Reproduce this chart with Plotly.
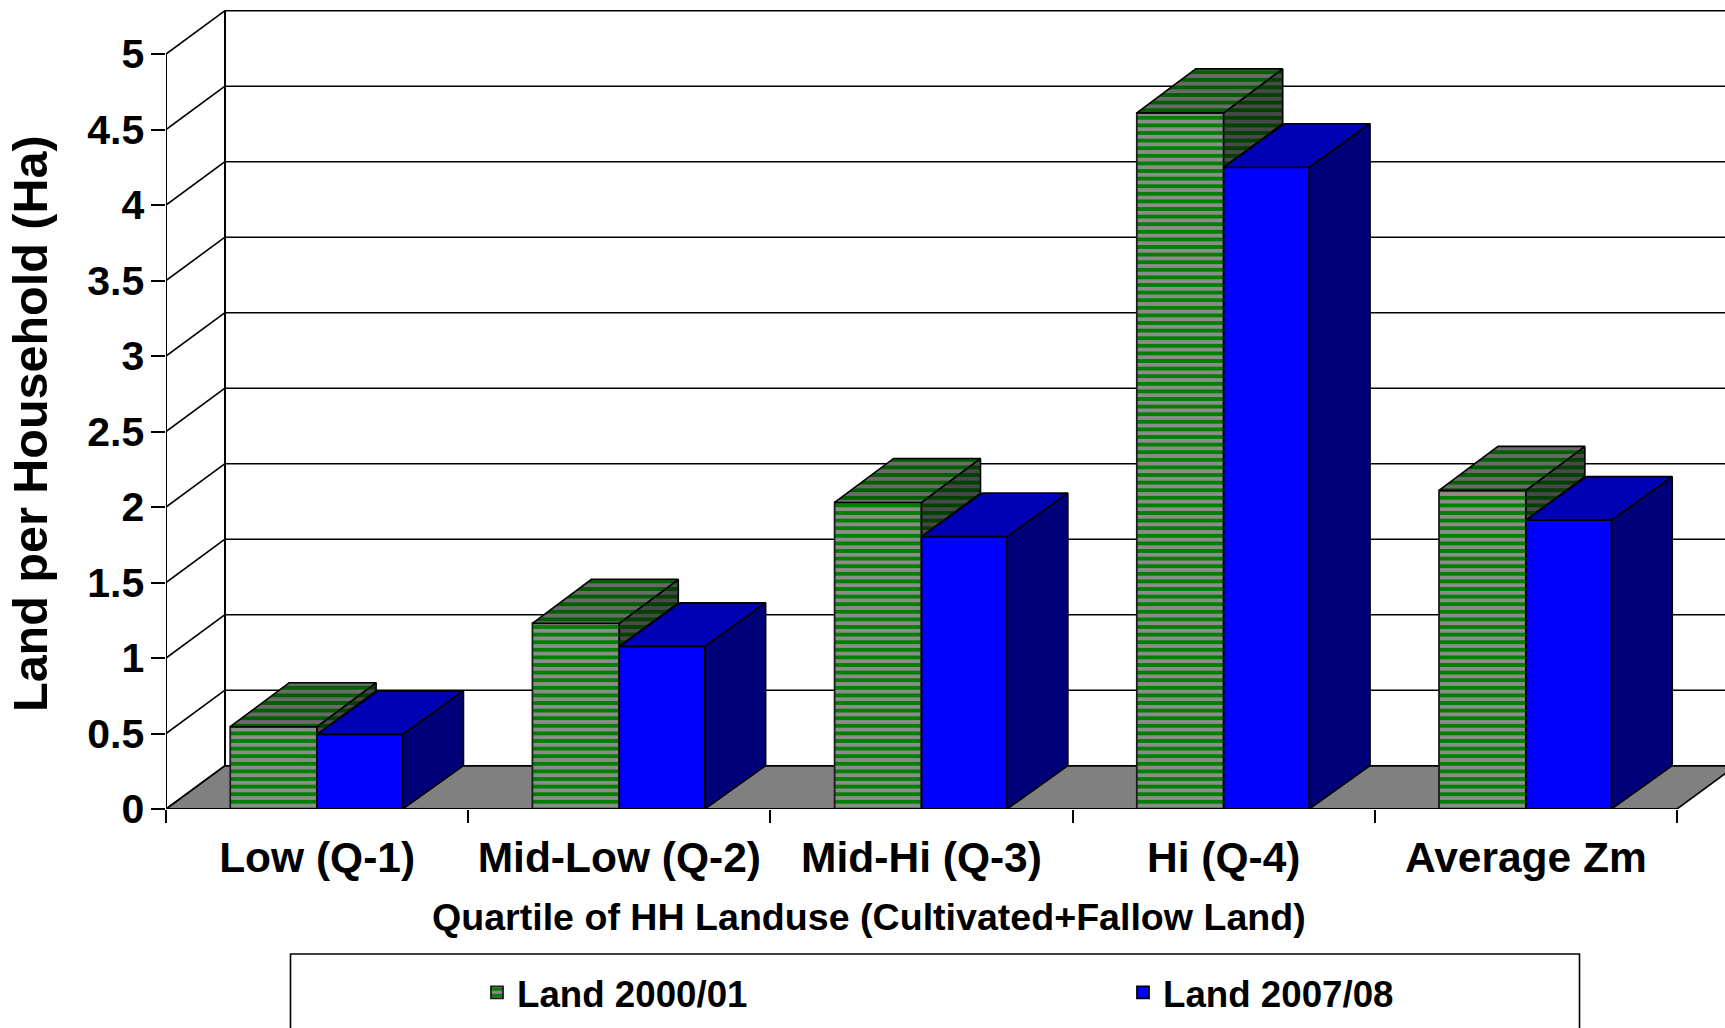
import plotly.graph_objects as go

categories = ["Low (Q-1)", "Mid-Low (Q-2)", "Mid-Hi (Q-3)", "Hi (Q-4)", "Average Zm"]
land_2000 = [0.545, 1.23, 2.03, 4.61, 2.11]
land_2007 = [0.494, 1.077, 1.804, 4.25, 1.913]
y_ticks = [0, 0.5, 1, 1.5, 2, 2.5, 3, 3.5, 4, 4.5, 5]
series_names = ["Land 2000/01", "Land 2007/08"]

FONT = "Liberation Sans"
PX_X = 302.2
PX_Y = 151.0
LEFT = 166
BASE = 809.0
W, H = 1725, 1028
WALL_DX, WALL_DY = 59 / PX_X, 43.3 / PX_Y
G_DX, G_DY = 59 / PX_X, 44 / PX_Y
B_DX, B_DY = 60.7 / PX_X, 43.5 / PX_Y
G_OFF, G_W = -0.2875, 0.2875
B_OFF, B_W = 0.0, 0.2835
xs = list(range(len(categories)))
x0, x1 = -0.5, len(categories) - 0.5


def poly(items):
    px, py = [], []
    for p in items:
        px += [q[0] for q in p] + [p[0][0], None]
        py += [q[1] for q in p] + [p[0][1], None]
    return px, py


def face(items, fg, bg=None):
    px, py = poly(items)
    kw = dict(fillcolor=bg or fg)
    if bg:
        kw["fillpattern"] = dict(shape="-", size=7.6, solidity=0.5, fgcolor=fg, bgcolor=bg, fgopacity=1)
    return go.Scatter(x=px, y=py, fill="toself", mode="lines", line=dict(color="#000", width=1.6),
                      showlegend=False, hoverinfo="skip", **kw)


fig = go.Figure()

fig.add_bar(x=xs, y=land_2000, name=series_names[0], offset=G_OFF, width=G_W,
            marker=dict(color="#8c8c8c", line=dict(color="#1c1c1c", width=1.8),
                        pattern=dict(shape="-", size=7.6, solidity=0.5, fgcolor="#008000",
                                     bgcolor="#8c8c8c", fgopacity=1)))
fig.add_bar(x=xs, y=land_2007, name=series_names[1], offset=B_OFF, width=B_W,
            marker=dict(color="#0000ff", line=dict(color="#000", width=1.8)))

g_side = [[(x + G_OFF + G_W, g), (x + G_OFF + G_W + G_DX, g + G_DY),
           (x + G_OFF + G_W + G_DX, b + B_DY), (x + G_OFF + G_W, b)]
          for x, g, b in zip(xs, land_2000, land_2007)]
g_top = [[(x + G_OFF, g), (x + G_OFF + G_W, g), (x + G_OFF + G_W + G_DX, g + G_DY),
          (x + G_OFF + G_DX, g + G_DY)] for x, g in zip(xs, land_2000)]
b_side = [[(x + B_OFF + B_W, b), (x + B_OFF + B_W + B_DX, b + B_DY),
           (x + B_OFF + B_W + B_DX, WALL_DY), (x + B_OFF + B_W, 0)] for x, b in zip(xs, land_2007)]
b_top = [[(x + B_OFF, b), (x + B_OFF + B_W, b), (x + B_OFF + B_W + B_DX, b + B_DY),
          (x + B_OFF + B_DX, b + B_DY)] for x, b in zip(xs, land_2007)]

fig.add_trace(face(g_side, "#004000", "#484848"))
fig.add_trace(face(g_top, "#006000", "#6a6a6a"))
fig.add_trace(face(b_top, "#0000b4"))
fig.add_trace(face(b_side, "#000078"))

shapes = []
line = dict(color="#000", width=1.6)
shapes.append(dict(type="path", layer="below", xref="x", yref="y", fillcolor="#808080", line=line,
                   path=f"M{x0},0 L{x1},0 L{x1 + WALL_DX},{WALL_DY} L{x0 + WALL_DX},{WALL_DY} Z"))
for v in y_ticks:
    shapes.append(dict(type="line", layer="below", xref="x", yref="y", line=line,
                       x0=x0, y0=v, x1=x0 + WALL_DX, y1=v + WALL_DY))
    shapes.append(dict(type="line", layer="below", xref="x", yref="y", line=line,
                       x0=x0 + WALL_DX, y0=v + WALL_DY, x1=x1 + 2 * WALL_DX, y1=v + WALL_DY))
shapes.append(dict(type="line", layer="below", xref="x", yref="y", line=dict(color="#000", width=2),
                   x0=x0 + WALL_DX, y0=WALL_DY, x1=x0 + WALL_DX, y1=y_ticks[-1] + WALL_DY))
shapes.append(dict(type="line", layer="below", xref="x", yref="y", line=dict(color="#000", width=2),
                   x0=x0, y0=0, x1=x0, y1=y_ticks[-1]))
shapes.append(dict(type="line", layer="above", xref="x", yref="y", line=dict(color="#000", width=2),
                   x0=x0, y0=0, x1=x1, y1=0))
# legend frame, running off the bottom of the picture
shapes.append(dict(type="rect", xref="paper", yref="paper", fillcolor="rgba(0,0,0,0)",
                   line=dict(color="#000", width=1.6),
                   x0=(290.5 - LEFT) / (W - LEFT), x1=(1579.5 - LEFT) / (W - LEFT),
                   y0=(BASE - 1045) / BASE, y1=(BASE - 954) / BASE))

fig.update_layout(
    width=W, height=H,
    margin=dict(l=LEFT, r=0, t=0, b=H - BASE, pad=0, autoexpand=False),
    paper_bgcolor="#fff", plot_bgcolor="#fff",
    barmode="overlay", shapes=shapes,
    font=dict(family=FONT, color="#000"),
    xaxis=dict(range=[x0, x0 + (W - LEFT) / PX_X], tickmode="array", tickvals=xs, ticktext=categories,
               ticks="", ticklabelstandoff=19, showgrid=False, zeroline=False, showline=False,
               tickfont=dict(family=FONT, size=42.5, weight="bold", color="#000"),
               minor=dict(tickmode="array", tickvals=[x - 0.5 for x in xs] + [x1], ticks="outside",
                          ticklen=13, tickwidth=1.6, tickcolor="#000", showgrid=False)),
    yaxis=dict(range=[0, BASE / PX_Y], tickmode="array", tickvals=y_ticks,
               ticktext=[f"{v:g}" for v in y_ticks], ticks="outside", ticklen=14.5, tickwidth=1.6,
               tickcolor="#000", showgrid=False, zeroline=False, showline=False, ticklabelstandoff=-2,
               tickfont=dict(family=FONT, size=41, weight="bold", color="#000")),
    legend=dict(orientation="h", x=(481 - 4 - LEFT) / (W - LEFT), xanchor="left",
                y=(BASE - 962) / BASE, yanchor="top", entrywidth=601, entrywidthmode="pixels",
                bgcolor="rgba(0,0,0,0)", borderwidth=0, traceorder="normal",
                font=dict(family=FONT, size=36.7, weight="bold", color="#000")),
    annotations=[
        dict(text="<b>Land per Household (Ha)</b>", xref="paper", yref="paper", showarrow=False,
             x=(30 - LEFT) / (W - LEFT), y=(BASE - 424) / BASE, textangle=-90,
             xanchor="center", yanchor="middle", font=dict(family=FONT, size=48.5, color="#000")),
        dict(text="<b>Quartile of HH Landuse (Cultivated+Fallow Land)</b>", xref="paper", yref="paper",
             showarrow=False, x=(869 - LEFT) / (W - LEFT), y=(BASE - 917) / BASE,
             xanchor="center", yanchor="middle", font=dict(family=FONT, size=37.6, color="#000")),
    ],
)

fig.write_html("out.html", config={"displayModeBar": False},
               post_script="document.body.style.margin='0';document.documentElement.style.overflow='hidden';")
